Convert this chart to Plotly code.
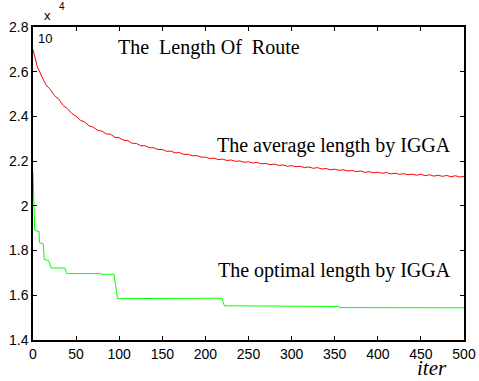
import plotly.graph_objects as go

# values in units of 10^4
avg_iter = list(range(0, 501, 5))
avg_len = [
    2.700, 2.622, 2.581, 2.541, 2.521, 2.493, 2.477, 2.449, 2.435, 2.413,
    2.401, 2.383, 2.375, 2.358, 2.352, 2.338, 2.334, 2.322, 2.320, 2.307,
    2.304, 2.294, 2.292, 2.280, 2.279, 2.269, 2.269, 2.260, 2.260, 2.252,
    2.252, 2.244, 2.245, 2.237, 2.238, 2.230, 2.231, 2.224, 2.225, 2.218,
    2.218, 2.212, 2.213, 2.207, 2.209, 2.203, 2.205, 2.199, 2.201, 2.195,
    2.197, 2.192, 2.194, 2.188, 2.190, 2.184, 2.187, 2.181, 2.183, 2.177,
    2.180, 2.175, 2.177, 2.171, 2.174, 2.168, 2.171, 2.165, 2.167, 2.161,
    2.164, 2.159, 2.161, 2.156, 2.158, 2.153, 2.156, 2.150, 2.153, 2.148,
    2.151, 2.146, 2.149, 2.143, 2.146, 2.141, 2.144, 2.139, 2.142, 2.137,
    2.141, 2.135, 2.139, 2.133, 2.137, 2.132, 2.136, 2.130, 2.135, 2.129,
    2.132]

opt_iter = [0, 1, 2, 7, 7.5, 12, 13, 18, 21, 37, 39, 78, 80, 94, 98, 219, 222, 354, 356, 500]
opt_len = [2.15, 1.95, 1.89, 1.885, 1.835, 1.83, 1.76, 1.755, 1.722, 1.722, 1.697, 1.697,
           1.694, 1.694, 1.585, 1.587, 1.553, 1.550, 1.545, 1.544]

y_ticks = [1.4, 1.6, 1.8, 2.0, 2.2, 2.4, 2.6, 2.8]
y_tick_text = ["1.4", "1.6", "1.8", "2", "2.2", "2.4", "2.6", "2.8"]
x_ticks = [0, 50, 100, 150, 200, 250, 300, 350, 400, 450, 500]

L, R, T, B = 33, 15, 27, 41
W, H = 479, 381
PW, PH = W - L - R, H - T - B

def px(xp):
    return (xp - L) / PW

def py(yp):
    return (H - B - yp) / PH

fig = go.Figure()
fig.add_trace(go.Scatter(x=avg_iter, y=avg_len, mode="lines",
                         line=dict(color="#ff0000", width=1), showlegend=False))
fig.add_trace(go.Scatter(x=opt_iter, y=opt_len, mode="lines",
                         line=dict(color="#00ff00", width=1), showlegend=False))

axis_common = dict(showgrid=False, zeroline=False, showline=True, linecolor="black",
                   linewidth=1.5, mirror="ticks", ticks="inside", ticklen=4,
                   tickcolor="black", automargin=False,
                   tickfont=dict(family="Liberation Sans", size=14, color="black"))
fig.update_xaxes(range=[0, 500], tickvals=x_ticks, ticklabelstandoff=0, **axis_common)
fig.update_yaxes(range=[1.4, 2.8], tickvals=y_ticks, ticktext=y_tick_text,
                 ticklabelstandoff=0, **axis_common)

serif = dict(family="Liberation Serif", size=20, color="black")
fig.add_annotation(text="The  Length Of  Route", x=px(116), y=py(47), xref="paper", yref="paper",
                   xanchor="left", yanchor="middle", showarrow=False, font=serif)
fig.add_annotation(text="The average length by IGGA", x=px(215), y=py(145), xref="paper",
                   yref="paper", xanchor="left", yanchor="middle", showarrow=False, font=serif)
fig.add_annotation(text="The optimal length by IGGA", x=px(216), y=py(270), xref="paper",
                   yref="paper", xanchor="left", yanchor="middle", showarrow=False, font=serif)
fig.add_annotation(text="<i>iter</i>", x=px(432), y=py(381), xref="paper", yref="paper",
                   xanchor="center", yanchor="bottom", showarrow=False, borderpad=0,
                   font=dict(family="Liberation Serif", size=21, color="black"))
fig.add_annotation(text="x", x=px(42), y=py(25), xref="paper", yref="paper", xanchor="left",
                   yanchor="bottom", showarrow=False,
                   font=dict(family="Liberation Sans", size=13, color="black"))
fig.add_annotation(text="4", x=px(57), y=py(14), xref="paper", yref="paper", xanchor="left",
                   yanchor="bottom", showarrow=False,
                   font=dict(family="Liberation Sans", size=10, color="black"))
fig.add_annotation(text="10", x=px(36), y=py(29), xref="paper", yref="paper", xanchor="left",
                   yanchor="top", showarrow=False,
                   font=dict(family="Liberation Sans", size=13, color="black"))

fig.update_layout(width=W, height=H, margin=dict(l=L, r=R, t=T, b=B),
                  plot_bgcolor="white", paper_bgcolor="white")
fig.write_html("out.html")
